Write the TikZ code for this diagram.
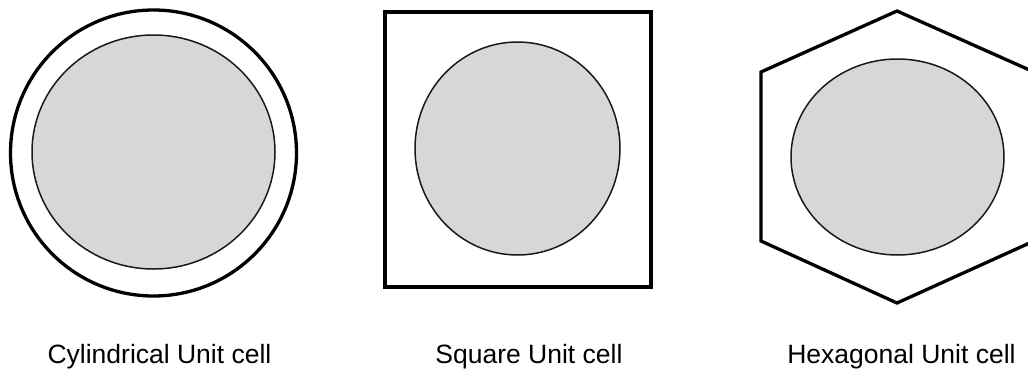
\documentclass[tikz,border=0pt]{standalone}
\usepackage{fontspec}
\setmainfont{Liberation Sans}
\usetikzlibrary{shapes.geometric}
\definecolor{cellfill}{RGB}{214,215,217}
\begin{document}
\begin{tikzpicture}[x=1pt,y=-1pt,
  fibre/.style={ellipse,draw=black!90,line width=1.5pt,fill=cellfill,inner sep=0pt},
  cellline/.style={draw=black,line width=3.3pt},
  caption/.style={anchor=base,font=\fontsize{26.5}{30}\selectfont}]
\useasboundingbox (0,0) rectangle (1028,372);
\clip (0,0) rectangle (1028,372);
% Cylindrical
\node[circle,cellline,minimum size=286pt,inner sep=0pt] (cylout) at (153.5,153) {};
\node[fibre,minimum width=243pt,minimum height=234pt] (cylin) at (153.5,152) {};
% Square
\node[rectangle,cellline,minimum width=266pt,minimum height=275pt,inner sep=0pt] (sqout) at (518,149.5) {};
\node[fibre,minimum width=205pt,minimum height=213pt] (sqin) at (517.5,148.5) {};
% Hexagonal
\coordinate (h1) at (897,11);
\coordinate (h2) at (1034,72);
\coordinate (h3) at (1034,241);
\coordinate (h4) at (897,303);
\coordinate (h5) at (761,241);
\coordinate (h6) at (761,72);
\draw[line width=3.3pt,line join=miter] (h1) -- (h2) -- (h3) -- (h4) -- (h5) -- (h6) -- cycle;
\node[fibre,minimum width=213pt,minimum height=196pt] (hexin) at (897.5,157) {};
% Captions
\node[caption] (capcyl) at (159.5,363) {Cylindrical Unit cell};
\node[caption] (capsq) at (529,363) {Square Unit cell};
\node[caption] (caphex) at (901.5,363) {Hexagonal Unit cell};
\end{tikzpicture}
\end{document}
